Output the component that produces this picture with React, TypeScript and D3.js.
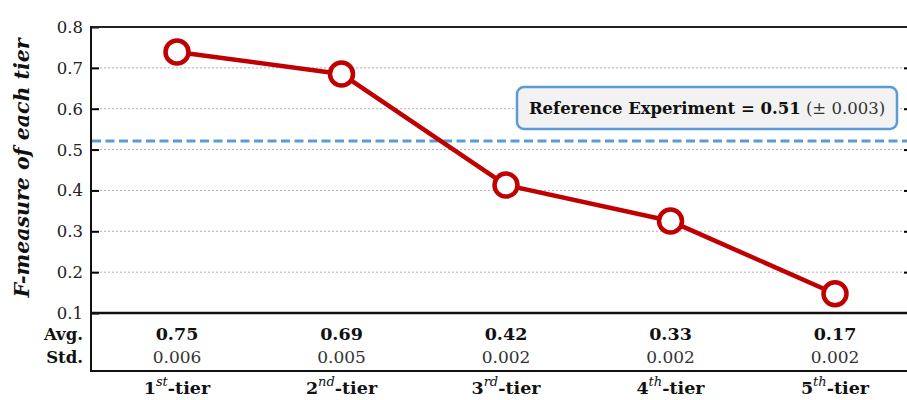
import { useEffect, useRef } from "react";
import * as d3 from "d3";

// tiers and what the picture shows
const tiers = ["1", "2", "3", "4", "5"];
const tierSup = ["st", "nd", "rd", "th", "th"];
const plotted = [0.739, 0.685, 0.413, 0.325, 0.147];
const avgLabels = ["0.75", "0.69", "0.42", "0.33", "0.17"];
const stdLabels = ["0.006", "0.005", "0.002", "0.002", "0.002"];
const yTicks = [0.1, 0.2, 0.3, 0.4, 0.5, 0.6, 0.7, 0.8];
const referenceValue = 0.521;
const referenceLabel = "Reference Experiment = 0.51";
const referenceStd = " (\u00b1 0.003)";

const W = 907;
const H = 400;
const SERIF = "'DejaVu Serif', serif";

export default function App() {
  const ref = useRef<SVGSVGElement>(null);

  useEffect(() => {
    document.body.style.margin = "0";
    const svg = d3.select(ref.current);
    svg.selectAll("*").remove();

    const left = 91, top = 27, bottom = 313, tableBottom = 371, right = 908;

    const x = d3.scalePoint<string>().domain(tiers).range([177, 835]);
    const y = d3.scaleLinear().domain([0.1, 0.8]).range([bottom, top]);

    // grid
    svg.append("g")
      .selectAll("line")
      .data(yTicks.filter(t => t > 0.1 && t < 0.8))
      .join("line")
      .attr("x1", left + 9).attr("x2", right)
      .attr("y1", d => y(d)).attr("y2", d => y(d))
      .attr("stroke", "#b0b0b0")
      .attr("stroke-width", 1)
      .attr("stroke-dasharray", "2,2");

    // left axis with inward ticks
    const axis = svg.append("g")
      .attr("transform", `translate(${left},0)`)
      .call(d3.axisRight(y).tickValues(yTicks).tickSize(8).tickFormat(() => ""));
    axis.select(".domain").remove();
    axis.selectAll("line").attr("stroke", "#000").attr("stroke-width", 2);

    // right inward ticks (cut off at page edge)
    svg.append("g")
      .attr("transform", `translate(${right},0)`)
      .call(d3.axisLeft(y).tickValues(yTicks.slice(1, -1)).tickSize(4).tickFormat(() => ""))
      .call(g => g.select(".domain").remove())
      .selectAll("line").attr("stroke", "#000").attr("stroke-width", 2);

    // tick labels
    svg.append("g")
      .selectAll("text")
      .data(yTicks)
      .join("text")
      .attr("x", 83)
      .attr("y", d => y(d) + 6)
      .attr("text-anchor", "end")
      .attr("font-family", SERIF)
      .attr("font-size", 16.5)
      .attr("fill", "#222")
      .text(d => d.toFixed(1));

    // frame
    svg.append("line").attr("x1", left).attr("x2", right).attr("y1", top).attr("y2", top)
      .attr("stroke", "#222").attr("stroke-width", 2);
    svg.append("line").attr("x1", left).attr("x2", right).attr("y1", bottom).attr("y2", bottom)
      .attr("stroke", "#111").attr("stroke-width", 2.5);
    svg.append("line").attr("x1", left).attr("x2", right).attr("y1", tableBottom).attr("y2", tableBottom)
      .attr("stroke", "#111").attr("stroke-width", 2);
    svg.append("line").attr("x1", left).attr("x2", left).attr("y1", top - 1).attr("y2", tableBottom + 1)
      .attr("stroke", "#111").attr("stroke-width", 2);

    // y title
    svg.append("text")
      .attr("transform", `translate(29,168) rotate(-90)`)
      .attr("text-anchor", "middle")
      .attr("font-family", SERIF)
      .attr("font-size", 20.5)
      .attr("font-weight", "bold")
      .attr("font-style", "italic")
      .attr("fill", "#111")
      .text("F-measure of each tier");

    // reference dashed line
    svg.append("line")
      .attr("x1", left + 1).attr("x2", right)
      .attr("y1", y(referenceValue)).attr("y2", y(referenceValue))
      .attr("stroke", "#5b9bd5").attr("stroke-width", 3.2)
      .attr("stroke-dasharray", "9,4.5");

    // reference box
    svg.append("rect")
      .attr("x", 517).attr("y", 87).attr("width", 380).attr("height", 42)
      .attr("rx", 7)
      .attr("fill", "#f2f2f2")
      .attr("stroke", "#5b9bd5").attr("stroke-width", 2.5);
    const rt = svg.append("text")
      .attr("x", 707).attr("y", 114)
      .attr("text-anchor", "middle")
      .attr("font-family", SERIF)
      .attr("font-size", 16.5)
      .attr("fill", "#111");
    rt.append("tspan").attr("font-weight", "bold").text(referenceLabel);
    rt.append("tspan").attr("fill", "#333").text(referenceStd);

    // series
    const line = d3.line<number>()
      .x((_, i) => x(tiers[i])!)
      .y(d => y(d));
    svg.append("path")
      .datum(plotted)
      .attr("d", line)
      .attr("fill", "none")
      .attr("stroke", "#c00000")
      .attr("stroke-width", 4.5)
      .attr("stroke-linejoin", "round");
    svg.append("g")
      .selectAll("circle")
      .data(plotted)
      .join("circle")
      .attr("cx", (_, i) => x(tiers[i])!)
      .attr("cy", d => y(d))
      .attr("r", 11.5)
      .attr("fill", "#fff")
      .attr("stroke", "#c00000")
      .attr("stroke-width", 4.5);

    // table
    const rowLabels = [["Avg.", 340], ["Std.", 363]] as const;
    rowLabels.forEach(([t, yy]) => {
      svg.append("text")
        .attr("x", 83).attr("y", yy)
        .attr("text-anchor", "end")
        .attr("font-family", SERIF).attr("font-size", 16.5).attr("font-weight", "bold")
        .attr("fill", "#111")
        .text(t);
    });
    svg.append("g").selectAll("text")
      .data(avgLabels).join("text")
      .attr("x", (_, i) => x(tiers[i])!).attr("y", 340)
      .attr("text-anchor", "middle")
      .attr("font-family", SERIF).attr("font-size", 17.5).attr("font-weight", "bold")
      .attr("fill", "#111")
      .text(d => d);
    svg.append("g").selectAll("text")
      .data(stdLabels).join("text")
      .attr("x", (_, i) => x(tiers[i])!).attr("y", 363)
      .attr("text-anchor", "middle")
      .attr("font-family", SERIF).attr("font-size", 17)
      .attr("fill", "#333")
      .text(d => d);

    // category labels
    const cats = svg.append("g").selectAll("text")
      .data(tiers).join("text")
      .attr("x", (d) => x(d)!).attr("y", 394)
      .attr("text-anchor", "middle")
      .attr("font-family", SERIF).attr("font-size", 17.5).attr("font-weight", "bold")
      .attr("fill", "#111");
    cats.append("tspan").text(d => d);
    cats.append("tspan")
      .attr("dy", -8)
      .attr("font-size", 13)
      .attr("font-style", "italic")
      .attr("font-weight", "normal")
      .text((_, i) => tierSup[i]);
    cats.append("tspan").attr("dy", 8).text("-tier");
  }, []);

  return <svg ref={ref} width={W} height={H} style={{ display: "block", background: "#fff" }} />;
}
